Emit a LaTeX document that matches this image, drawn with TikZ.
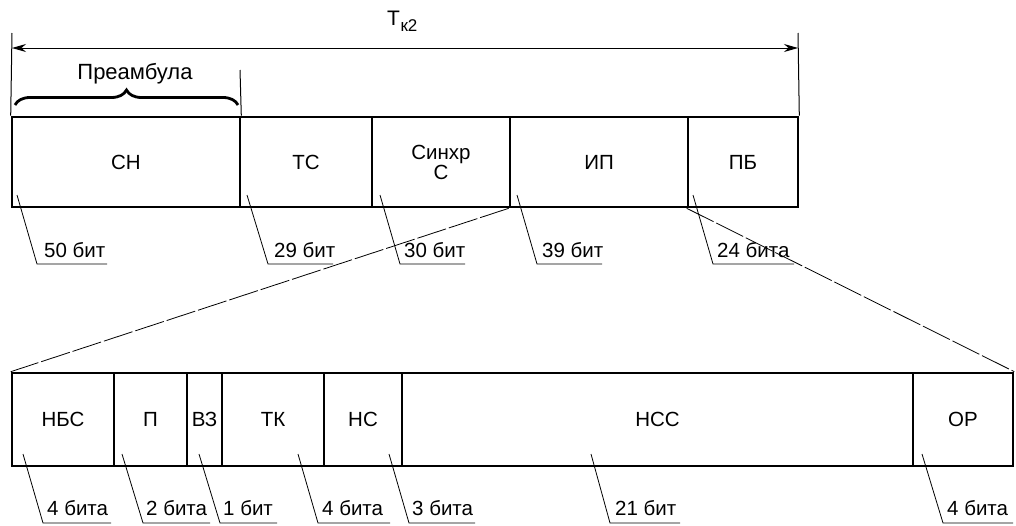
\documentclass[tikz,border=0pt]{standalone}
\usepackage{fontspec}
\setmainfont{Liberation Sans}
\usetikzlibrary{arrows.meta,decorations.pathreplacing}
\begin{document}
\begin{tikzpicture}[x=1pt,y=-1pt,
  cell/.style={draw, line width=2.6pt, inner sep=0pt, font=\fontsize{20.5}{23}\selectfont, align=center},
  topcell/.style={cell, minimum height=90pt},
  botcell/.style={cell, minimum height=93pt},
  lab/.style={inner sep=0pt, font=\fontsize{20.5}{23}\selectfont, anchor=base west},
  leader/.style={line width=0.8pt},
  expand/.style={line width=0.8pt, dash pattern=on 30pt off 3pt},
  thin/.style={line width=1pt}]
\useasboundingbox (0,0) rectangle (1016,525);

% top frame
\node[topcell, minimum width=228pt] (cn) at (126,162) {СН};
\node[topcell, minimum width=132pt] (ts) at (306,162) {ТС};
\node[topcell, minimum width=138pt] (sh) at (441,162) {Синхр\\[-3pt]С};
\node[topcell, minimum width=178pt] (ip) at (599,162) {ИП};
\node[topcell, minimum width=110pt] (pb) at (743,162) {ПБ};

% bottom frame
\node[botcell, minimum width=102pt] (nbs) at (63,419.5) {НБС};
\node[botcell, minimum width=73pt] (pp) at (150.5,419.5) {П};
\node[botcell, minimum width=35pt] (vz) at (204.5,419.5) {ВЗ};
\node[botcell, minimum width=102pt] (tk) at (273,419.5) {ТК};
\node[botcell, minimum width=78pt] (ns) at (363,419.5) {НС};
\node[botcell, minimum width=511pt] (nss) at (657.5,419.5) {НСС};
\node[botcell, minimum width=100pt] (orr) at (963,419.5) {ОР};

% dimension T
\coordinate (tl) at (12,33);
\coordinate (tr) at (798,33);
\coordinate (al) at (12,48);
\coordinate (ar) at (798,48);
\draw[thin] (tl) -- (cn.north west);
\draw[thin] (tr) -- (pb.north east);
\draw[thin, {Stealth[length=14pt,width=8pt]}-{Stealth[length=14pt,width=8pt]}] (al) -- (ar);
\node[inner sep=0pt, anchor=base west] (tk2) at (387,25) {\fontsize{21}{23}\selectfont Т\hspace{0.5pt}\raisebox{-6pt}{\fontsize{17}{19}\selectfont к2}};

% preamble
\coordinate (pl) at (240,70);
\draw[thin] (pl) -- (cn.north east);
\coordinate (bl) at (15,105);
\coordinate (br) at (238,105);
\draw[line width=2.8pt, decorate, decoration={brace, amplitude=15pt}] (bl) -- (br);
\node[inner sep=0pt, font=\fontsize{22}{24}\selectfont] (pre) at (135,74) {Преамбула};

% expansion lines
\draw[expand] (ip.south west) -- (nbs.north west);
\draw[expand] (pb.south west) -- (orr.north east);

% top leaders
\coordinate (s1) at (17,195);  \coordinate (b1) at (37,264);  \coordinate (e1) at (107,264);
\node[lab] (t1) at (44,257) {50 бит};
\draw[leader] (s1) -- (b1) -- (e1);
\coordinate (s2) at (247,195); \coordinate (b2) at (268,264); \coordinate (e2) at (333,264);
\node[lab] (t2) at (274,257) {29 бит};
\draw[leader] (s2) -- (b2) -- (e2);
\coordinate (s3) at (380,195); \coordinate (b3) at (400,264); \coordinate (e3) at (465,264);
\node[lab] (t3) at (404,257) {30 бит};
\draw[leader] (s3) -- (b3) -- (e3);
\coordinate (s4) at (517,195); \coordinate (b4) at (537,264); \coordinate (e4) at (602,264);
\node[lab] (t4) at (542,257) {39 бит};
\draw[leader] (s4) -- (b4) -- (e4);
\coordinate (s5) at (693,195); \coordinate (b5) at (713,264); \coordinate (e5) at (794,264);
\node[lab] (t5) at (717,257) {24 бита};
\draw[leader] (s5) -- (b5) -- (e5);

% bottom leaders
\coordinate (u1) at (23,454);  \coordinate (v1) at (43,523);  \coordinate (w1) at (111,523);
\node[lab] (q1) at (47,515) {4 бита};
\draw[leader] (u1) -- (v1) -- (w1);
\coordinate (u2) at (122,454); \coordinate (v2) at (143,523); \coordinate (w2) at (210,523);
\node[lab] (q2) at (146,515) {2 бита};
\draw[leader] (u2) -- (v2) -- (w2);
\coordinate (u3) at (199,454); \coordinate (v3) at (220,523); \coordinate (w3) at (277,523);
\node[lab] (q3) at (223,515) {1 бит};
\draw[leader] (u3) -- (v3) -- (w3);
\coordinate (u4) at (298,454); \coordinate (v4) at (318,523); \coordinate (w4) at (390,523);
\node[lab] (q4) at (322,515) {4 бита};
\draw[leader] (u4) -- (v4) -- (w4);
\coordinate (u5) at (389,454); \coordinate (v5) at (409,523); \coordinate (w5) at (475,523);
\node[lab] (q5) at (412,515) {3 бита};
\draw[leader] (u5) -- (v5) -- (w5);
\coordinate (u6) at (591,454); \coordinate (v6) at (610,523); \coordinate (w6) at (680,523);
\node[lab] (q6) at (615,515) {21 бит};
\draw[leader] (u6) -- (v6) -- (w6);
\coordinate (u7) at (922,454); \coordinate (v7) at (943,523); \coordinate (w7) at (1013,523);
\node[lab] (q7) at (947,515) {4 бита};
\draw[leader] (u7) -- (v7) -- (w7);
\end{tikzpicture}
\end{document}
